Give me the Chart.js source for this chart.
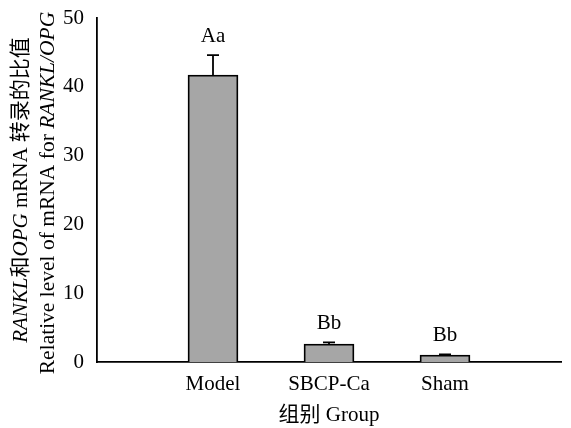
<!DOCTYPE html>
<html>
<head>
<meta charset="utf-8">
<script src="https://cdn.jsdelivr.net/npm/chart.js@4.4.0/dist/chart.umd.min.js"></script>
<style>
  html, body { margin: 0; padding: 0; background: #fff; }
  #wrap { width: 571px; height: 428px; }
</style>
</head>
<body>
<div id="wrap"><canvas id="barChart" width="571" height="428"></canvas></div>
<script>
// data
const groups = ['', 'Model', 'SBCP-Ca', 'Sham', ''];
const ratioMeans = [null, 41.7, 2.6, 1.0, null];
const ratioErrTop = [null, 44.6, 2.85, 1.1, null];
const sigLetters = ['', 'Aa', 'Bb', 'Bb', ''];
const yTicks = [0, 10, 20, 30, 40, 50];

const SERIF = '"Liberation Serif", "Times New Roman", "Noto Sans CJK SC", serif';

// draws a line of mixed upright / italic pieces centred on (0,0)
function drawRich(ctx, parts, size) {
    let total = 0;
    parts.forEach(p => {
        ctx.font = (p.i ? 'italic ' : '') + size + 'px ' + SERIF;
        p.w = ctx.measureText(p.t).width;
        total += p.w;
    });
    let x = -total / 2;
    parts.forEach(p => {
        ctx.font = (p.i ? 'italic ' : '') + size + 'px ' + SERIF;
        ctx.fillText(p.t, x, 0);
        x += p.w;
    });
}

const extras = {
    id: 'extras',
    afterDatasetsDraw(chart) {
        const ctx = chart.ctx;
        const x = chart.scales.x;
        const y = chart.scales.y;
        const area = chart.chartArea;

        ctx.save();
        ctx.strokeStyle = '#000';
        ctx.fillStyle = '#000';
        ctx.lineWidth = 1.8;
        ctx.textAlign = 'left';
        ctx.textBaseline = 'middle';

        // error bars (upper only)
        ratioMeans.forEach((m, i) => {
            if (m === null) return;
            const px = x.getPixelForValue(i);
            const top = y.getPixelForValue(ratioErrTop[i]);
            const base = y.getPixelForValue(m);
            ctx.beginPath();
            ctx.moveTo(px, base);
            ctx.lineTo(px, top);
            ctx.moveTo(px - 6, top);
            ctx.lineTo(px + 6, top);
            ctx.stroke();
        });

        // significance letters
        ctx.textAlign = 'center';
        ctx.font = '21px ' + SERIF;
        sigLetters.forEach((s, i) => {
            if (!s) return;
            const px = x.getPixelForValue(i);
            const top = y.getPixelForValue(ratioErrTop[i]);
            ctx.fillText(s, px, top - 19);
        });

        // y title, two lines
        ctx.save();
        ctx.translate(21, 190);
        ctx.rotate(-Math.PI / 2);
        ctx.textAlign = 'left';
        drawRich(ctx, [
            { t: 'RANKL', i: true }, { t: '和' }, { t: 'OPG', i: true }, { t: ' mRNA 转录的比值' }
        ], 21);
        ctx.restore();

        ctx.save();
        ctx.translate(48, 193);
        ctx.rotate(-Math.PI / 2);
        ctx.textAlign = 'left';
        drawRich(ctx, [
            { t: 'Relative level of mRNA for ' }, { t: 'RANKL/OPG', i: true }
        ], 21.5);
        ctx.restore();

        // x title
        ctx.save();
        ctx.translate((area.left + area.right) / 2, 415);
        ctx.textAlign = 'left';
        drawRich(ctx, [{ t: '组别 Group' }], 21);
        ctx.restore();

        ctx.restore();
    }
};

new Chart(document.getElementById('barChart'), {
    type: 'bar',
    data: {
        labels: groups,
        datasets: [{
            data: ratioMeans,
            backgroundColor: '#a6a6a6',
            borderColor: '#000',
            borderWidth: 1.8,
            barThickness: 50
        }]
    },
    options: {
        responsive: false,
        animation: false,
        layout: { padding: { top: 18, right: 8, left: 0, bottom: 0 } },
        plugins: {
            legend: { display: false },
            tooltip: { enabled: false }
        },
        scales: {
            x: {
                offset: false,
                grid: { display: false, drawTicks: false },
                border: { display: true, color: '#000', width: 1.8 },
                ticks: {
                    color: '#000',
                    padding: 10,
                    maxRotation: 0,
                    autoSkip: false,
                    font: { family: SERIF, size: 21 }
                },
                afterFit(scale) { scale.height = 66; }
            },
            y: {
                min: 0,
                max: 50,
                afterBuildTicks(scale) { scale.ticks = yTicks.map(v => ({ value: v })); },
                grid: { display: false, drawTicks: false },
                border: { display: true, color: '#000', width: 1.8 },
                ticks: {
                    color: '#000',
                    padding: 13,
                    font: { family: SERIF, size: 21 }
                },
                afterFit(scale) {
                    scale.width = 97;
                    scale.paddingTop = 0;
                    scale.paddingBottom = 0;
                }
            }
        }
    },
    plugins: [extras]
});
</script>
</body>
</html>
